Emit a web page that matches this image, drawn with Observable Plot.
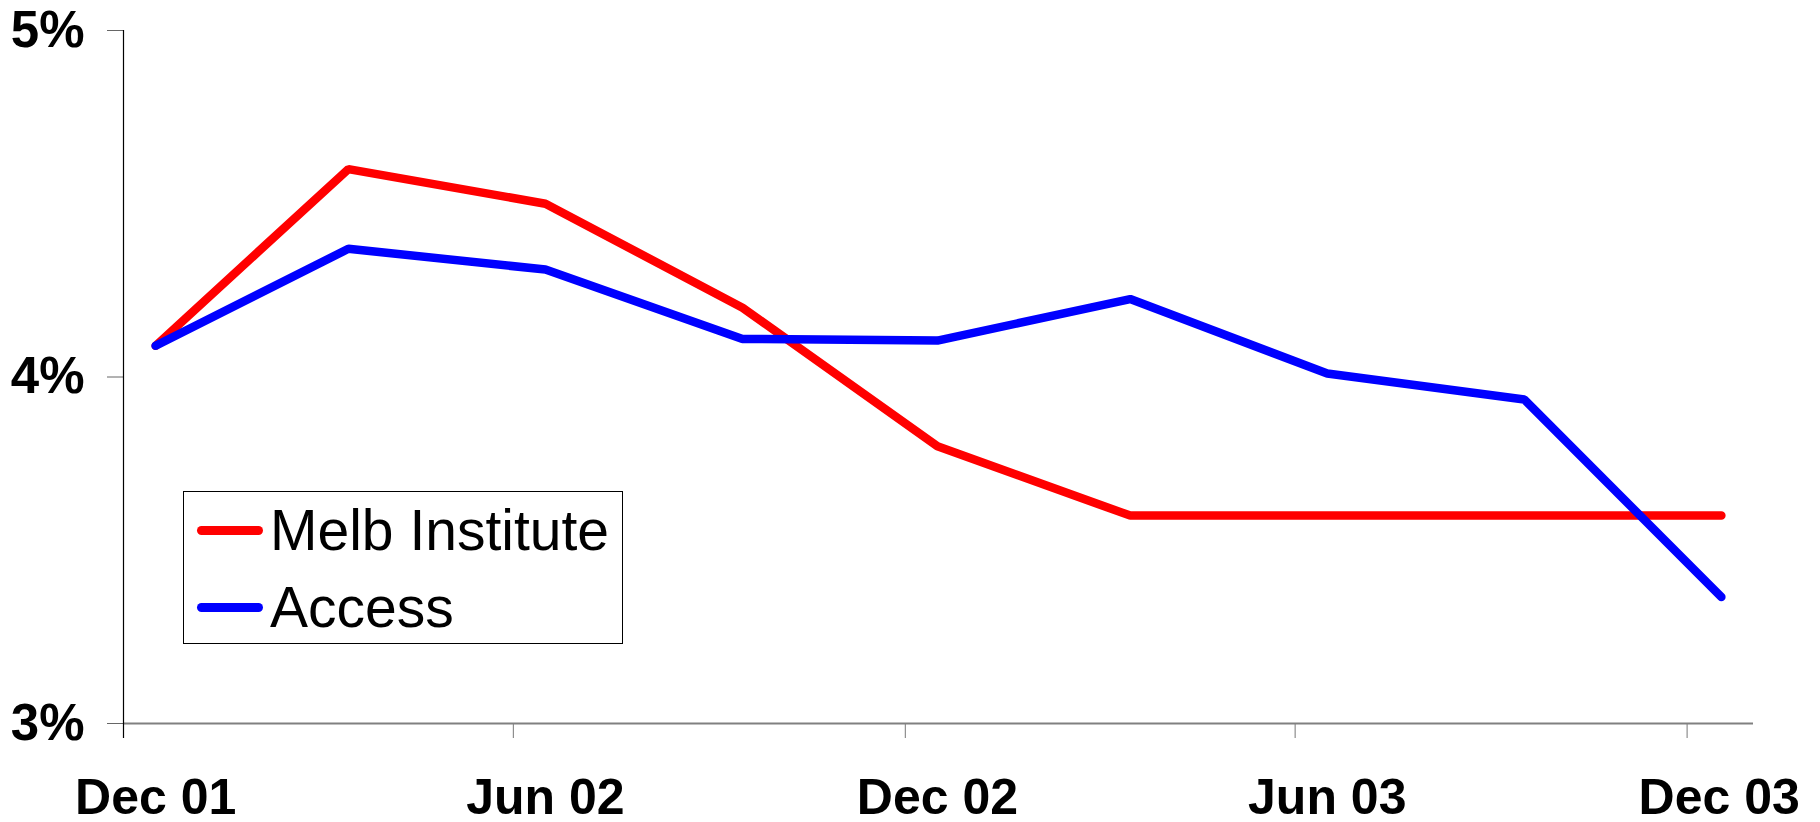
<!DOCTYPE html>
<html>
<head>
<meta charset="utf-8">
<script src="https://cdn.jsdelivr.net/npm/d3@7"></script>
<script src="https://cdn.jsdelivr.net/npm/@observablehq/plot@0.6"></script>
<style>
  html, body { margin: 0; padding: 0; background: #fff; }
  #wrap { position: relative; width: 1820px; height: 822px; overflow: hidden; }
  #legend { position: absolute; left: 183px; top: 491px; width: 440px; height: 153px;
    border: 1.5px solid #000; box-sizing: border-box; background: #fff;
    font-family: "Liberation Sans", Arial, sans-serif; font-size: 57px; color: #000; }
  .item { position: absolute; left: 13px; height: 60px; display: flex; align-items: center; }
  .swatch { width: 66px; height: 9px; border-radius: 5px; margin-right: 7px; }
</style>
</head>
<body>
<div id="wrap"></div>
<script>
// Data
const quarters = ["2001-12-16","2002-03-16","2002-06-16","2002-09-16","2002-12-16","2003-03-16","2003-06-16","2003-09-16","2003-12-17"];
const melbInstitute = [4.09, 4.60, 4.50, 4.20, 3.80, 3.60, 3.60, 3.60, 3.60];
const access = [4.09, 4.37, 4.31, 4.11, 4.105, 4.225, 4.01, 3.935, 3.365];
const seriesNames = ["Melb Institute", "Access"];
const seriesColors = ["#ff0000", "#0000ff"];
const tickBoundaries = ["2001-12-01","2002-06-01","2002-12-01","2003-06-01","2003-12-01"];
const tickLabelDates = ["2001-12-16","2002-06-16","2002-12-16","2003-06-16","2003-12-16"];
const tickLabels = ["Dec 01","Jun 02","Dec 02","Jun 03","Dec 03"];
const yTicks = [3, 4, 5];

const rows = [];
quarters.forEach((q, i) => {
  rows.push({date: new Date(q), value: melbInstitute[i], series: seriesNames[0]});
});
quarters.forEach((q, i) => {
  rows.push({date: new Date(q), value: access[i], series: seriesNames[1]});
});
const labelMap = new Map(tickLabelDates.map((d, i) => [+new Date(d), tickLabels[i]]));

const font = "Liberation Sans, Arial, sans-serif";
const chart = Plot.plot({
  width: 1820,
  height: 822,
  marginLeft: 123,
  marginRight: 67,
  marginTop: 30,
  marginBottom: 99,
  style: {fontFamily: font, background: "#fff"},
  x: {type: "utc", domain: [new Date("2001-12-01"), new Date("2004-01-01")]},
  y: {domain: [3, 5]},
  color: {domain: seriesNames, range: seriesColors},
  marks: [
    Plot.axisY({ticks: yTicks, tickFormat: d => d + "%", tickSize: 16, tickPadding: 23,
      stroke: "#666", fontSize: 51, fontWeight: "bold", fill: "#000", label: null}),
    Plot.axisX({ticks: tickBoundaries.map(d => new Date(d)), tickSize: 15, stroke: "#777",
      text: null, label: null}),
    Plot.axisX({ticks: tickLabelDates.map(d => new Date(d)), tickSize: 0, tickPadding: 55,
      tickFormat: d => labelMap.get(+d), fontSize: 50, fontWeight: "bold", fill: "#000", label: null}),
    Plot.ruleY([3], {stroke: "#808080", strokeWidth: 2}),
    Plot.ruleX([new Date("2001-12-01")], {y1: 5, y2: 3, stroke: "#000", strokeWidth: 1.2, insetBottom: -15}),
    Plot.line(rows, {x: "date", y: "value", stroke: "series", z: "series",
      strokeWidth: 8.5, strokeLinecap: "round", strokeLinejoin: "miter"})
  ]
});
const wrap = document.getElementById("wrap");
wrap.appendChild(chart);

const legend = document.createElement("div");
legend.id = "legend";
seriesNames.forEach((name, i) => {
  const item = document.createElement("div");
  item.className = "item";
  item.style.top = (i === 0 ? 8 : 85) + "px";
  const sw = document.createElement("div");
  sw.className = "swatch";
  sw.style.background = seriesColors[i];
  const tx = document.createElement("span");
  tx.textContent = name;
  item.appendChild(sw);
  item.appendChild(tx);
  legend.appendChild(item);
});
wrap.appendChild(legend);
</script>
</body>
</html>
